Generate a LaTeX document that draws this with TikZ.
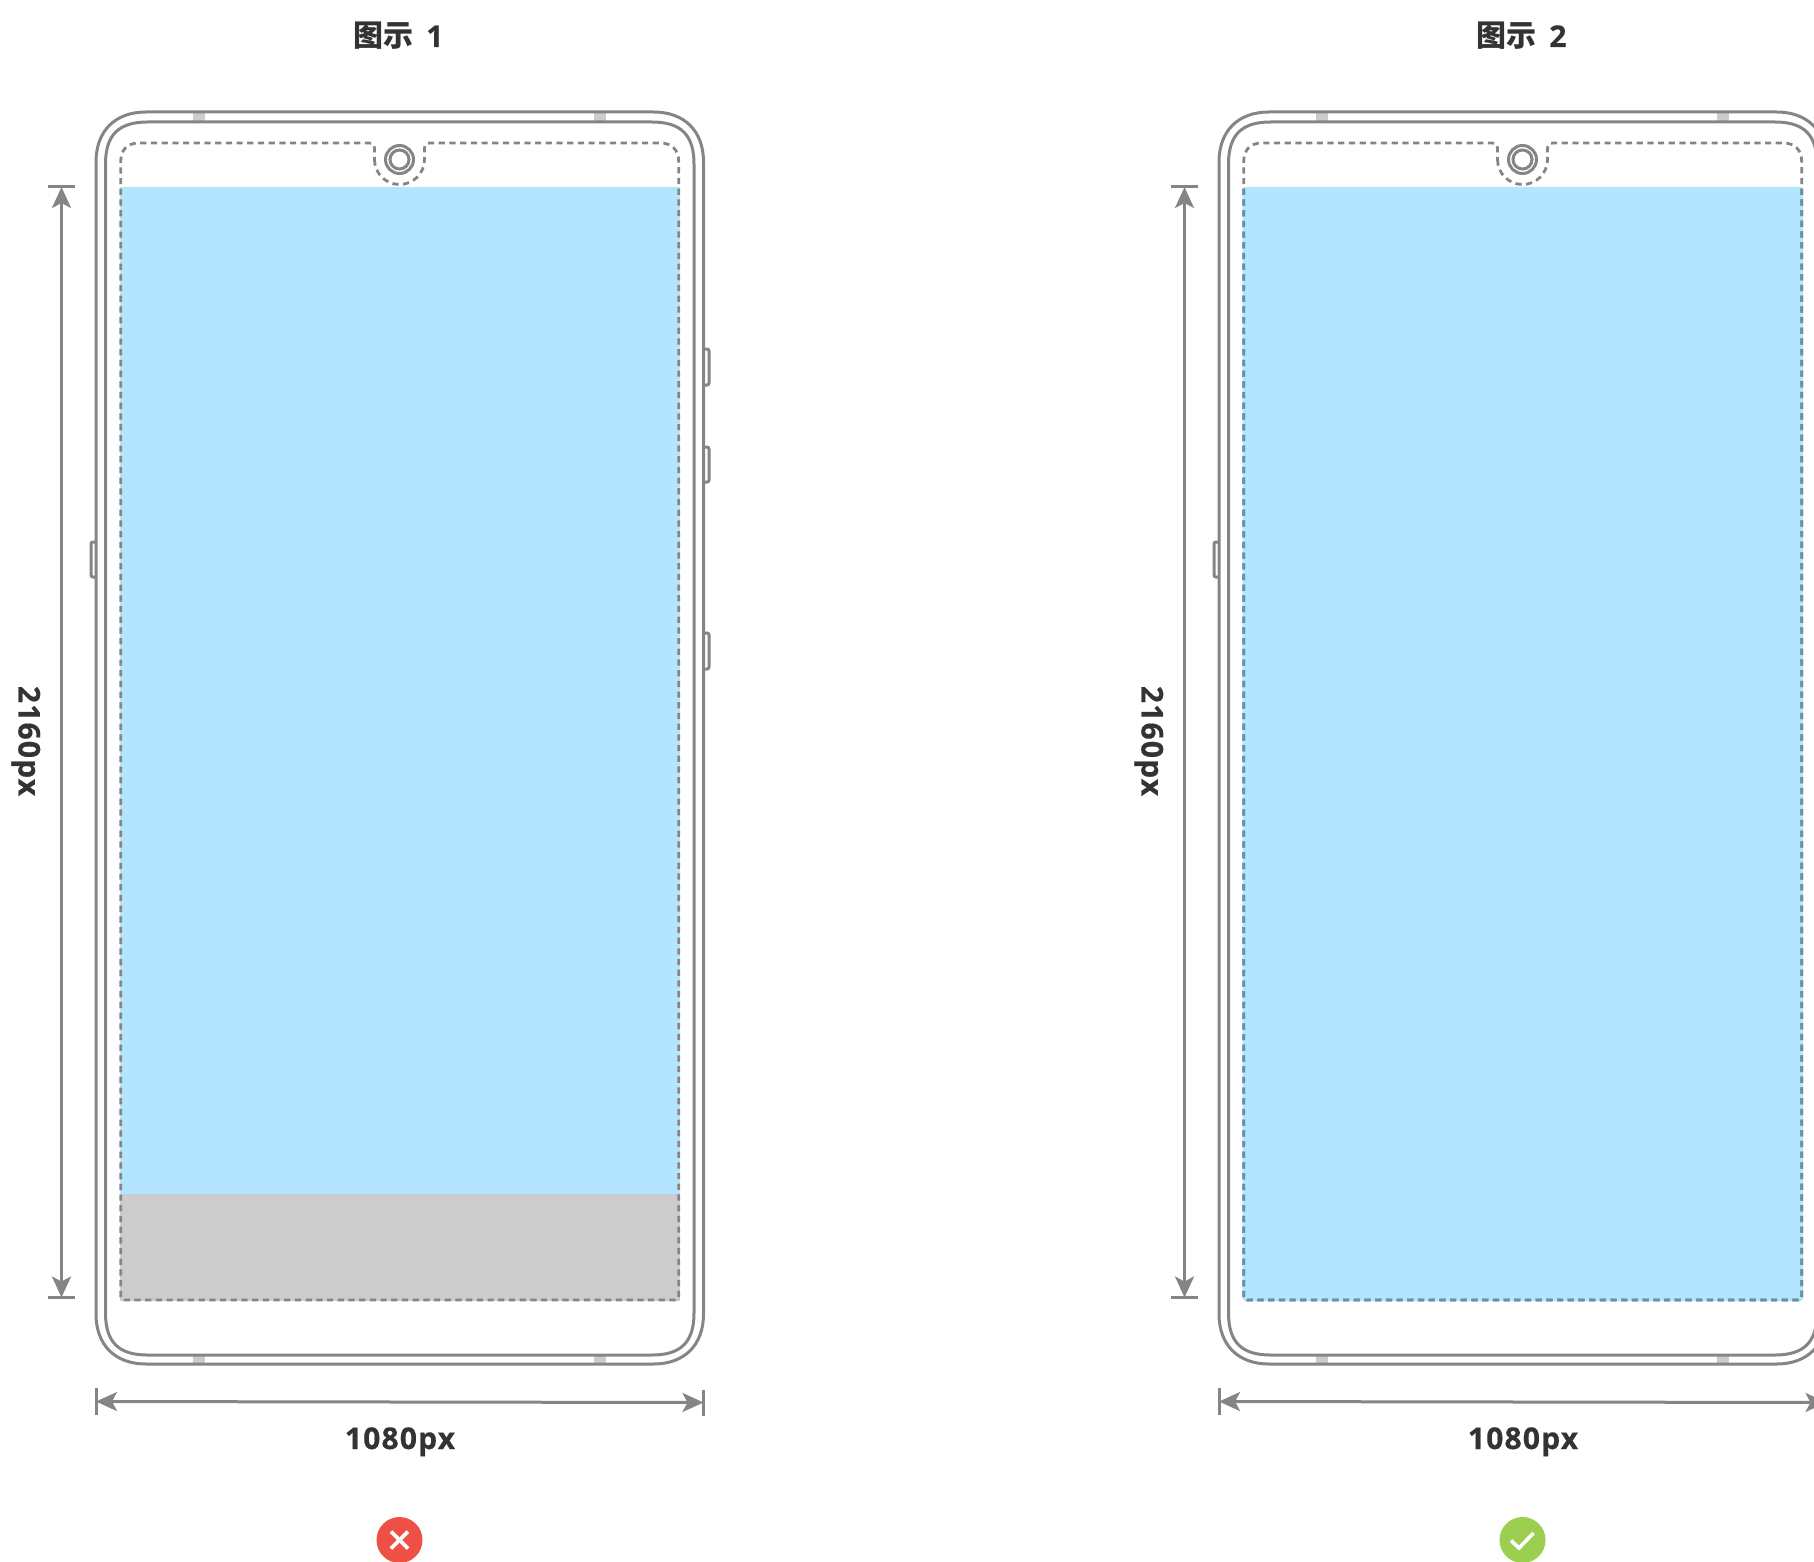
\documentclass[tikz,border=0pt]{standalone}
\usepackage{fontspec}
\setmainfont{Open Sans}
\newfontfamily\cjkbold{Noto Sans CJK SC Bold}
\usetikzlibrary{calc,arrows.meta}
\definecolor{linegray}{HTML}{858585}
\definecolor{screenblue}{HTML}{B3E5FF}
\definecolor{navgray}{HTML}{CCCCCC}
\definecolor{labelgray}{HTML}{333333}
\definecolor{dashblue}{HTML}{6494AD}
\tikzset{
  >={Stealth[length=21pt,width=19pt,inset=5pt]},
  outline/.style={draw=linegray, line width=3pt},
  safezone/.style={draw=linegray, line width=2.8pt, dash pattern=on 6.2pt off 4.5pt},
  tab/.style={fill=navgray, draw=none},
  dimline/.style={draw=linegray, line width=3pt},
  dimtext/.style={text=labelgray, anchor=base, font=\fontsize{30}{30}\bfseries\addfontfeature{LetterSpace=4,FakeBold=0.5}},
  titletext/.style={text=labelgray, anchor=base, font=\fontsize{30}{30}\bfseries\addfontfeature{FakeBold=0.5}},
  badge/.style={circle, minimum size=46pt, inner sep=0pt},
  badgemark/.style={draw=white, line width=3.6pt},
}
% left, top, right, bottom, corner extent, control offset
\newcommand\softrect[6]{
	({#1+#5},#2) -- ({#3-#5},#2) .. controls ({#3-#6},#2) and (#3,{#2+#6}) .. (#3,{#2+#5})
	-- (#3,{#4-#5}) .. controls (#3,{#4-#6}) and ({#3-#6},#4) .. ({#3-#5},#4)
	-- ({#1+#5},#4) .. controls ({#1+#6},#4) and (#1,{#4-#6}) .. (#1,{#4-#5})
	-- (#1,{#2+#5}) .. controls (#1,{#2+#6}) and ({#1+#6},#2) .. ({#1+#5},#2) -- cycle
}
\newcommand\safepath{
	(374.5,159.5) arc[start angle=180, end angle=0, radius=25]
	-- (424.5,149) .. controls (424.5,145) and (426,143) .. (430,143)
	-- (660,143) .. controls (672,143) and (678.7,150) .. (678.7,162)
	-- (678.7,1296) .. controls (678.7,1299) and (677,1300) .. (675,1300)
	-- (124,1300) .. controls (122,1300) and (120.7,1299) .. (120.7,1296)
	-- (120.7,162) .. controls (120.7,150) and (127,143) .. (139,143)
	-- (369,143) .. controls (373,143) and (374.5,145) .. (374.5,149) -- cycle
}
\begin{document}
\begin{tikzpicture}[x=1pt, y=-1pt]
	\useasboundingbox (0,0) rectangle (1814,1562);
	\clip (0,0) rectangle (1814,1562);
	% screen fills
	\fill[screenblue] (119.5,187) rectangle (680,1194);
	\fill[navgray] (119.5,1194) rectangle (680,1301);
	\fill[screenblue, rounded corners=3pt] (1242.5,187) rectangle (1803,1301);
	% both phones
	\foreach \ox/\name/\lbl in {0/one/1, 1123/two/2}{
		\begin{scope}[xshift=\ox pt]
			\node[titletext] (title-\name) at (398.5,47) {{\cjkbold 图示}\hspace{5pt} \lbl};
			\fill[tab] (193,112) rectangle (205,122);
			\fill[tab] (594,112) rectangle (606,122);
			\fill[tab] (193,1355) rectangle (205,1364);
			\fill[tab] (594,1355) rectangle (606,1364);
			\draw[outline] \softrect{96}{112}{703.5}{1364}{50}{19};
			\draw[outline] \softrect{105.5}{122}{694}{1355}{42}{13};
			% side buttons
			\draw[outline, rounded corners=2pt] (704,349) -- (709,349) -- (709,385) -- (704,385);
			\draw[outline, rounded corners=2pt] (704,447) -- (709,447) -- (709,482) -- (704,482);
			\draw[outline, rounded corners=2pt] (704,633) -- (709,633) -- (709,669) -- (704,669);
			\draw[outline, rounded corners=2pt] (96,542) -- (91,542) -- (91,577) -- (96,577);
			% camera
			\node[circle, outline, minimum size=28pt, inner sep=0pt] (cam-\name) at (399.5,159.5) {};
			\node[circle, outline, minimum size=19pt, inner sep=0pt] at (cam-\name) {};
			% safe area
			\draw[safezone] \safepath;
			% height dimension
			\coordinate (htop-\name) at (61.5,187);
			\coordinate (hbot-\name) at (61.5,1297.5);
			\draw[dimline] (48,187) -- (75,187);
			\draw[dimline] (48,1297.5) -- (75,1297.5);
			\draw[dimline, <->] (htop-\name) -- (hbot-\name);
			\node[dimtext, rotate=-90] (hlabel-\name) at (18.5,741) {2160px};
			% width dimension
			\coordinate (wleft-\name) at (96,1401.5);
			\coordinate (wright-\name) at (703.5,1402.5);
			\draw[dimline] (96,1388) -- (96,1415);
			\draw[dimline] (703.5,1390) -- (703.5,1416);
			\draw[dimline, <->] (wleft-\name) -- (wright-\name);
			\node[dimtext] (wlabel-\name) at (400,1449) {1080px};
		\end{scope}
	}
	% dashes of the second phone over its blue screen
	\begin{scope}[xshift=1123pt]
		\clip (118,187) rectangle (682,1303);
		\draw[safezone, draw=dashblue] \safepath;
	\end{scope}
	% verdict badges
	\node[badge, fill={rgb,255:red,239;green,80;blue,69}] (wrong) at (399.5,1540) {};
	\draw[badgemark] ($(wrong)+(-8.5,-8.5)$) -- ($(wrong)+(8.5,8.5)$);
	\draw[badgemark] ($(wrong)+(-8.5,8.5)$) -- ($(wrong)+(8.5,-8.5)$);
	\node[badge, fill={rgb,255:red,156;green,207;blue,80}] (right) at (1522.5,1540) {};
	\draw[badgemark] ($(right)+(-11.5,0.5)$) -- ($(right)+(-3.5,8)$) -- ($(right)+(11,-7)$);
\end{tikzpicture}
\end{document}
